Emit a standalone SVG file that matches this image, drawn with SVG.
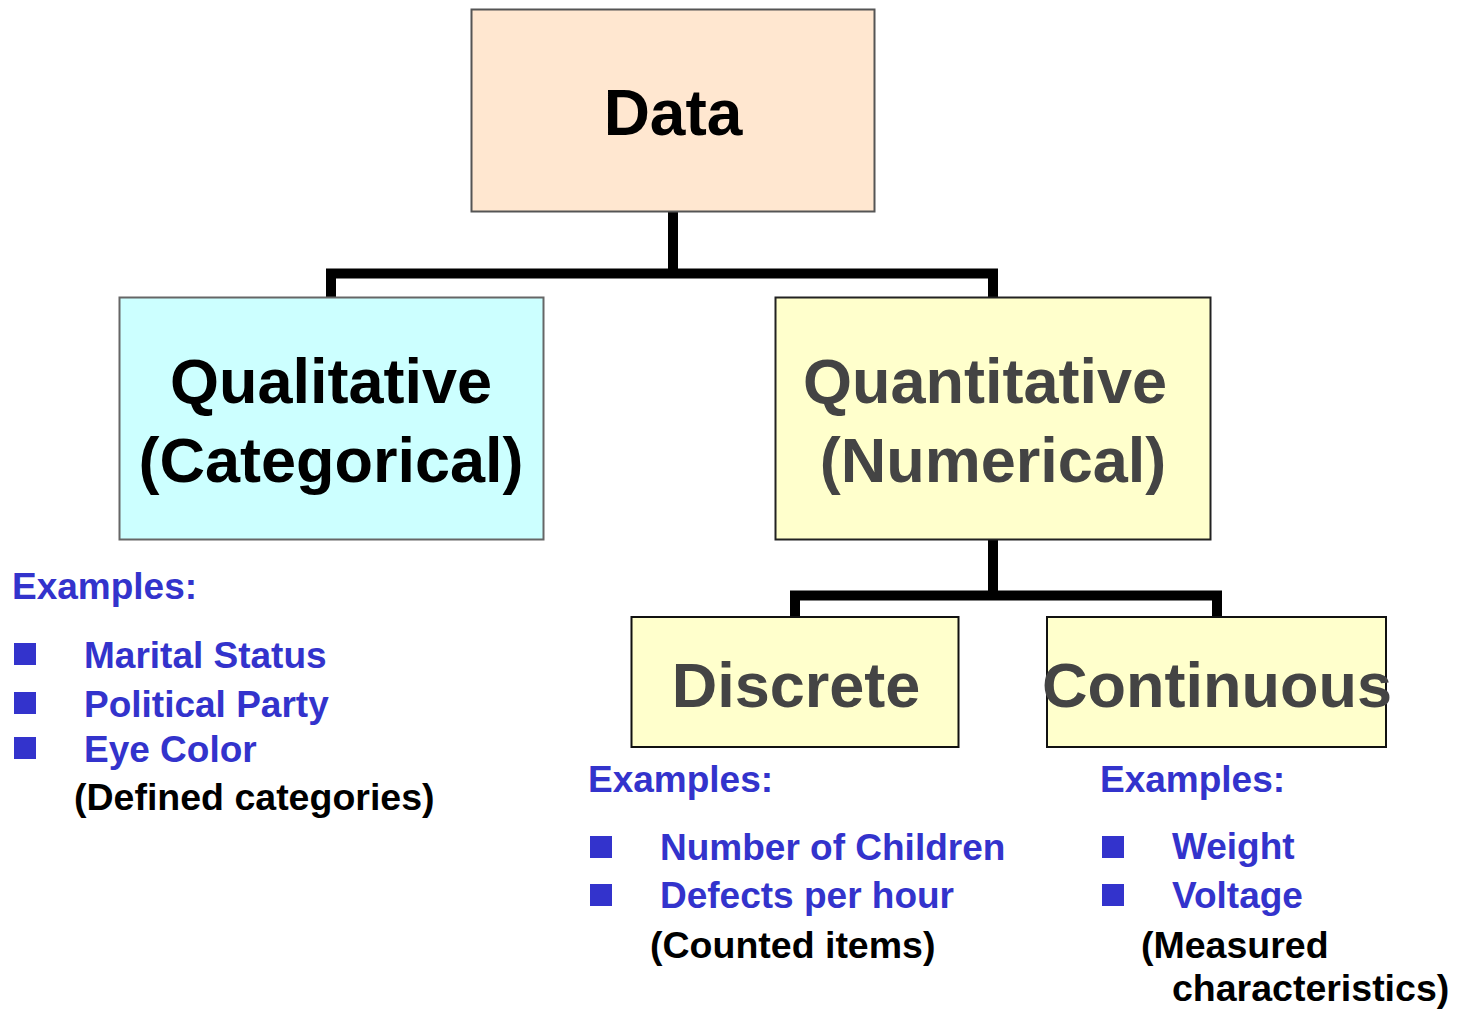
<svg xmlns="http://www.w3.org/2000/svg" width="1458" height="1009" viewBox="0 0 1458 1009">
<style>
.box{stroke-width:2}
.t{font-family:"Liberation Sans",Arial,sans-serif;font-weight:bold}
.big{font-size:63px;text-anchor:middle}
.ex{font-size:37px;fill:#3333CC}
.note{font-size:37.5px;fill:#000}
.bul{fill:#3333CC}
.conn{stroke:#000;stroke-width:10;fill:none;stroke-linejoin:miter;stroke-linecap:butt}
</style>
<rect width="1458" height="1009" fill="#fff"/>
<g id="connectors">
<path class="conn" d="M673,211 V273.5 M331,298 V273.5 H993 V298"/>
<path class="conn" d="M993,540 V595.5 M795,617 V595.5 H1217 V617"/>
</g>
<g id="data">
<rect class="box" x="471.5" y="9.5" width="403" height="202" fill="#FFE7D0" stroke="#555"/>
<text class="t big" x="673" y="135" style="font-size:64px" fill="#000">Data</text>
</g>
<g id="qualitative">
<rect class="box" x="119.5" y="297.5" width="424" height="242" fill="#CCFFFF" stroke="#666"/>
<text class="t big" x="331" y="403" fill="#000">Qualitative</text>
<text class="t big" x="331" y="482" fill="#000">(Categorical)</text>
</g>
<g id="quantitative">
<rect class="box" x="775.5" y="297.5" width="435" height="242" fill="#FFFFCC" stroke="#222"/>
<text class="t big" x="985" y="403" fill="#444">Quantitative</text>
<text class="t big" x="993" y="482" fill="#444">(Numerical)</text>
</g>
<g id="discrete">
<rect class="box" x="631.5" y="617" width="327" height="130" fill="#FFFFCC" stroke="#111"/>
<text class="t big" x="796" y="707" fill="#444">Discrete</text>
</g>
<g id="continuous">
<rect class="box" x="1047" y="617" width="339" height="130" fill="#FFFFCC" stroke="#111"/>
<text class="t big" x="1217" y="707" fill="#444">Continuous</text>
</g>
<g id="qual-examples">
<text class="t ex" x="12" y="599">Examples:</text>
<rect class="bul" x="14" y="643" width="22" height="22"/>
<rect class="bul" x="14" y="692" width="22" height="22"/>
<rect class="bul" x="14" y="737" width="22" height="22"/>
<text class="t ex" x="84" y="668">Marital Status</text>
<text class="t ex" x="84" y="717">Political Party</text>
<text class="t ex" x="84" y="762">Eye Color</text>
<text class="t note" x="74" y="810">(Defined categories)</text>
</g>
<g id="discrete-examples">
<text class="t ex" x="588" y="792">Examples:</text>
<rect class="bul" x="590" y="836" width="22" height="22"/>
<rect class="bul" x="590" y="884" width="22" height="22"/>
<text class="t ex" x="660" y="860">Number of Children</text>
<text class="t ex" x="660" y="908">Defects per hour</text>
<text class="t note" x="650" y="958">(Counted items)</text>
</g>
<g id="continuous-examples">
<text class="t ex" x="1100" y="792">Examples:</text>
<rect class="bul" x="1102" y="836" width="22" height="22"/>
<rect class="bul" x="1102" y="884" width="22" height="22"/>
<text class="t ex" x="1172" y="859">Weight</text>
<text class="t ex" x="1172" y="908">Voltage</text>
<text class="t note" x="1141" y="958">(Measured</text>
<text class="t note" x="1172" y="1001">characteristics)</text>
</g>
</svg>
